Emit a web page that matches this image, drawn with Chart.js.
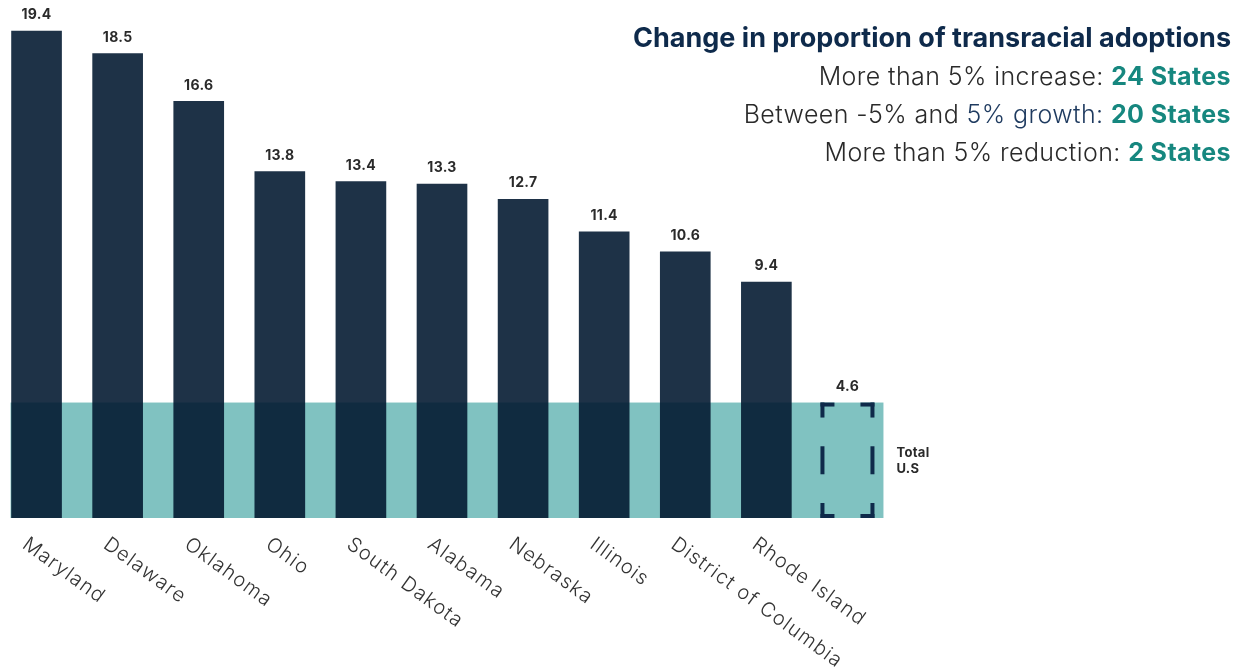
<!DOCTYPE html>
<html>
<head>
<meta charset="utf-8">
<script src="https://cdn.jsdelivr.net/npm/chart.js@4.4.1/dist/chart.umd.min.js"></script>
<style>
  html, body { margin: 0; padding: 0; background: #fff; width: 1244px; height: 668px; overflow: hidden; }
  #wrap { position: absolute; left: -4px; top: 0; width: 1248px; height: 668px; }
  #head { position: absolute; right: 13px; top: 19px; text-align: right; font-family: Inter, "Noto Sans", sans-serif; }
  #head .t { font-weight: 700; font-size: 27px; color: #0e2a4b; line-height: 38px; letter-spacing: 0px; }
  #head .l { font-weight: 300; font-size: 25px; color: #2a2a2a; line-height: 38px; letter-spacing: 0.4px; }
  #head .n { color: #1e3a5f; }
  #head b { font-weight: 700; color: #16877f; }
</style>
</head>
<body>
<div id="wrap"><canvas id="chart" width="1248" height="668"></canvas></div>
<div id="head">
  <div class="t">Change in proportion of transracial adoptions</div>
  <div class="l">More than 5% increase: <b>24 States</b></div>
  <div class="l">Between -5% and <span class="n">5% growth:</span> <b>20 States</b></div>
  <div class="l">More than 5% reduction: <b>2 States</b></div>
</div>
<script>
const states = ["Maryland", "Delaware", "Oklahoma", "Ohio", "South Dakota", "Alabama",
  "Nebraska", "Illinois", "District of Columbia", "Rhode Island", "Total U.S"];
const values = [19.4, 18.5, 16.6, 13.8, 13.4, 13.3, 12.7, 11.4, 10.6, 9.4, 4.6];
const usTotal = 4.6;
const totalIndex = 10;
const totalLines = ["Total", "U.S"];

const barColor = "rgba(2, 25, 48, 0.89)";
const bandColor = "#80c2c1";
const navy = "#0f2a4a";

// teal band at the national level, drawn behind the bars
const bandPlugin = {
  id: "band",
  beforeDatasetsDraw(chart) {
    const { ctx } = chart;
    const y = chart.scales.y;
    const meta = chart.getDatasetMeta(0);
    const first = meta.data[0], last = meta.data[totalIndex];
    const left = first.x - first.width / 2 - 1;
    const right = last.x + last.width / 2 + 11;
    const top = y.getPixelForValue(usTotal), bottom = y.getPixelForValue(0);
    ctx.save();
    ctx.fillStyle = bandColor;
    ctx.fillRect(left, top, right - left, bottom - top);
    ctx.restore();
  }
};

const labelPlugin = {
  id: "labels",
  afterDatasetsDraw(chart) {
    const { ctx } = chart;
    const y = chart.scales.y;
    const meta = chart.getDatasetMeta(0);
    ctx.save();
    // value labels
    ctx.font = "700 14px Inter, 'Noto Sans', sans-serif";
    ctx.fillStyle = "#2a2a2a";
    ctx.textAlign = "center";
    ctx.textBaseline = "middle";
    ctx.letterSpacing = "0.3px";
    meta.data.forEach((bar, i) => {
      ctx.fillText(values[i].toFixed(1), bar.x, y.getPixelForValue(values[i]) - 16);
    });

    // dashed bracket for Total U.S
    const tb = meta.data[totalIndex];
    const bx0 = tb.x - 27, bx1 = tb.x + 27;
    const by0 = y.getPixelForValue(values[totalIndex]), by1 = y.getPixelForValue(0);
    const lw = 4, h = 14, v = 15, mid = (by0 + by1) / 2;
    ctx.fillStyle = navy;
    [[bx0, 1], [bx1 - lw, -1]].forEach(([sx, dir]) => {
      const hx = dir > 0 ? bx0 : bx1 - h;
      ctx.fillRect(hx, by0, h, lw);
      ctx.fillRect(sx, by0, lw, v);
      ctx.fillRect(hx, by1 - lw, h, lw);
      ctx.fillRect(sx, by1 - v, lw, v);
      ctx.fillRect(sx, mid - 14, lw, 28);
    });

    // Total U.S caption
    ctx.fillStyle = "#2a2a2a";
    ctx.font = "700 13px Inter, 'Noto Sans', sans-serif";
    ctx.textAlign = "left";
    totalLines.forEach((t, k) => ctx.fillText(t, bx1 + 22, mid - 7 + k * 16));

    // rotated category labels
    ctx.font = "300 20px Inter, 'Noto Sans', sans-serif";
    ctx.letterSpacing = "1.2px";
    ctx.fillStyle = "#333";
    ctx.textBaseline = "top";
    meta.data.forEach((bar, i) => {
      if (i === totalIndex) return;
      ctx.save();
      ctx.translate(bar.x - 6, by1 + 16);
      ctx.rotate(36 * Math.PI / 180);
      ctx.fillText(states[i], 0, 0);
      ctx.restore();
    });
    ctx.restore();
  }
};

new Chart(document.getElementById("chart").getContext("2d"), {
  type: "bar",
  data: {
    labels: states,
    datasets: [{
      data: values,
      backgroundColor: values.map((v, i) => i === totalIndex ? "rgba(0,0,0,0)" : barColor),
      barThickness: 50,
      borderWidth: 0
    }]
  },
  options: {
    responsive: false,
    animation: false,
    devicePixelRatio: 1,
    layout: { padding: { top: 16, bottom: 150, left: 0, right: 356 } },
    plugins: { legend: { display: false }, tooltip: { enabled: false } },
    scales: {
      x: { display: false, grid: { display: false } },
      y: { display: false, min: 0, max: 20, grid: { display: false } }
    }
  },
  plugins: [bandPlugin, labelPlugin]
});
</script>
</body>
</html>
